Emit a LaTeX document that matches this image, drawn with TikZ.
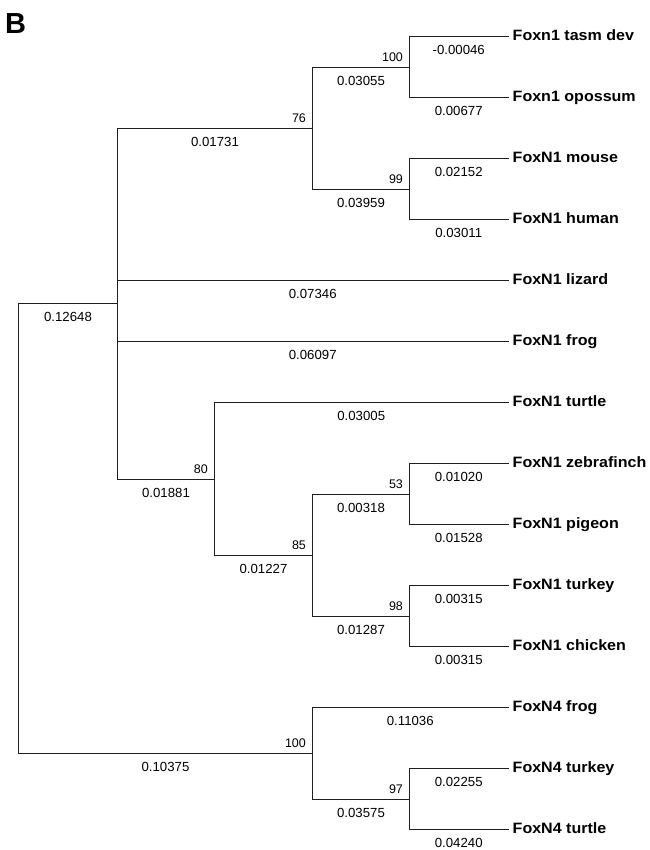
\documentclass[tikz,border=0pt]{standalone}
\usepackage{fontspec}
\setmainfont{Liberation Sans}
\newfontfamily\tipfont[FakeStretch=1.07]{Liberation Sans}
\begin{document}
\begin{tikzpicture}[x=1pt,y=-1pt,
  branch/.style={draw=black!88, line width=1.2pt, line cap=rect, line join=miter},
  tip/.style={anchor=base west, inner sep=0pt, font=\tipfont\bfseries\fontsize{15}{17}\selectfont},
  blen/.style={anchor=base, inner sep=0pt, yshift=-18pt, font=\fontsize{13.2}{15}\selectfont, midway},
  boot/.style={anchor=base east, inner sep=0pt, xshift=-6pt, yshift=5.6pt, font=\fontsize{12.5}{14}\selectfont, pos=1}]
\useasboundingbox (0,0) rectangle (649,850);
% panel letter
\node[anchor=base west, inner sep=0pt, font=\bfseries\fontsize{29}{32}\selectfont] (panel) at (5,33.5) {B};
% internal nodes
\coordinate (R) at (18.5,528.5);
\coordinate (A) at (117.5,303.5);
\coordinate (n76) at (312.5,128.5);
\coordinate (n100a) at (409.5,67.5);
\coordinate (n99) at (409.5,189.5);
\coordinate (n80) at (214.5,479.5);
\coordinate (n85) at (312.5,555.5);
\coordinate (n53) at (409.5,494.5);
\coordinate (n98) at (409.5,616.5);
\coordinate (n100b) at (312.5,753.5);
\coordinate (n97) at (409.5,799.5);
% tip ends
\foreach \i/\nm in {0/ta,1/tb,2/tc,3/td,4/te,5/tf,6/tg,7/th,8/ti,9/tj,10/tk,11/tl,12/tm,13/tn}{
  \coordinate (\nm) at (508,36.5+61*\i);
}
% tip labels
\node[tip] (la) at ([shift={(4.5,4)}]ta) {Foxn1 tasm dev};
\node[tip] (lb) at ([shift={(4.5,4)}]tb) {Foxn1 opossum};
\node[tip] (lc) at ([shift={(4.5,4)}]tc) {FoxN1 mouse};
\node[tip] (ld) at ([shift={(4.5,4)}]td) {FoxN1 human};
\node[tip] (le) at ([shift={(4.5,4)}]te) {FoxN1 lizard};
\node[tip] (lf) at ([shift={(4.5,4)}]tf) {FoxN1 frog};
\node[tip] (lg) at ([shift={(4.5,4)}]tg) {FoxN1 turtle};
\node[tip] (lh) at ([shift={(4.5,4)}]th) {FoxN1 zebrafinch};
\node[tip] (li) at ([shift={(4.5,4)}]ti) {FoxN1 pigeon};
\node[tip] (lj) at ([shift={(4.5,4)}]tj) {FoxN1 turkey};
\node[tip] (lk) at ([shift={(4.5,4)}]tk) {FoxN1 chicken};
\node[tip] (ll) at ([shift={(4.5,4)}]tl) {FoxN4 frog};
\node[tip] (lm) at ([shift={(4.5,4)}]tm) {FoxN4 turkey};
\node[tip] (ln) at ([shift={(4.5,4)}]tn) {FoxN4 turtle};
% vertical bars of each internal node
\draw[branch] (R |- A) -- (R |- n100b);
\draw[branch] (A |- n76) -- (A |- n80);
\draw[branch] (n76 |- n100a) -- (n76 |- n99);
\draw[branch] (n100a |- ta) -- (n100a |- tb);
\draw[branch] (n99 |- tc) -- (n99 |- td);
\draw[branch] (n80 |- tg) -- (n80 |- n85);
\draw[branch] (n85 |- n53) -- (n85 |- n98);
\draw[branch] (n53 |- th) -- (n53 |- ti);
\draw[branch] (n98 |- tj) -- (n98 |- tk);
\draw[branch] (n100b |- tl) -- (n100b |- n97);
\draw[branch] (n97 |- tm) -- (n97 |- tn);
% horizontal branches
\draw[branch] (R |- A) -- node[blen]{0.12648} (A);
\draw[branch] (R |- n100b) -- node[blen]{0.10375} node[boot]{100} (n100b);
\draw[branch] (A |- n76) -- node[blen]{0.01731} node[boot]{76} (n76);
\draw[branch] (A |- te) -- node[blen]{0.07346} (te);
\draw[branch] (A |- tf) -- node[blen]{0.06097} (tf);
\draw[branch] (A |- n80) -- node[blen]{0.01881} node[boot]{80} (n80);
\draw[branch] (n76 |- n100a) -- node[blen]{0.03055} node[boot]{100} (n100a);
\draw[branch] (n76 |- n99) -- node[blen]{0.03959} node[boot]{99} (n99);
\draw[branch] (n100a |- ta) -- node[blen]{-0.00046} (ta);
\draw[branch] (n100a |- tb) -- node[blen]{0.00677} (tb);
\draw[branch] (n99 |- tc) -- node[blen]{0.02152} (tc);
\draw[branch] (n99 |- td) -- node[blen]{0.03011} (td);
\draw[branch] (n80 |- tg) -- node[blen]{0.03005} (tg);
\draw[branch] (n80 |- n85) -- node[blen]{0.01227} node[boot]{85} (n85);
\draw[branch] (n85 |- n53) -- node[blen]{0.00318} node[boot]{53} (n53);
\draw[branch] (n85 |- n98) -- node[blen]{0.01287} node[boot]{98} (n98);
\draw[branch] (n53 |- th) -- node[blen]{0.01020} (th);
\draw[branch] (n53 |- ti) -- node[blen]{0.01528} (ti);
\draw[branch] (n98 |- tj) -- node[blen]{0.00315} (tj);
\draw[branch] (n98 |- tk) -- node[blen]{0.00315} (tk);
\draw[branch] (n100b |- tl) -- node[blen]{0.11036} (tl);
\draw[branch] (n100b |- n97) -- node[blen]{0.03575} node[boot]{97} (n97);
\draw[branch] (n97 |- tm) -- node[blen]{0.02255} (tm);
\draw[branch] (n97 |- tn) -- node[blen]{0.04240} (tn);
\end{tikzpicture}
\end{document}
